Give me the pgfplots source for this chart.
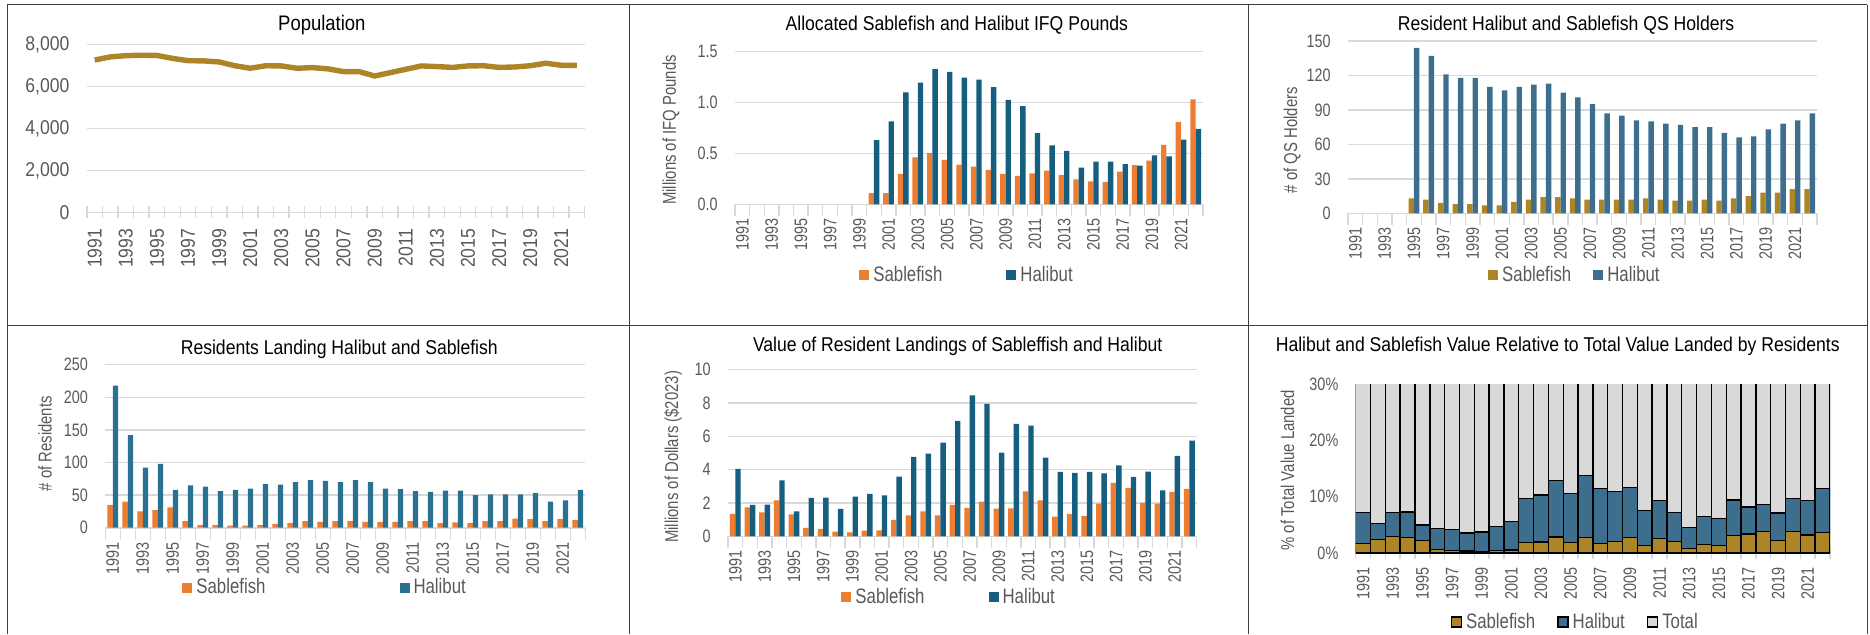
\documentclass[border=0pt]{standalone}
\usepackage{fontspec}
\setmainfont{Liberation Sans}[FakeStretch=0.8]
\newfontfamily\tfont{Liberation Sans}[FakeStretch=0.88]
\usepackage{pgfplots}
\usepackage{pgfplotstable}
\pgfplotsset{compat=1.18}

\definecolor{sable}{HTML}{ED7D31}
\definecolor{hali}{HTML}{165E80}
\definecolor{hali4}{HTML}{2A7091}
\definecolor{gold}{HTML}{AD8426}
\definecolor{steel}{HTML}{3E6E8E}
\definecolor{totgray}{HTML}{D9D9D9}
\definecolor{axgray}{HTML}{D9D9D9}
\definecolor{labgray}{HTML}{595959}

\pgfplotstableread{
year pop
1991 7250
1992 7400
1993 7460
1994 7480
1995 7470
1996 7330
1997 7220
1998 7210
1999 7160
2000 6980
2001 6860
2002 6980
2003 6970
2004 6860
2005 6890
2006 6830
2007 6700
2008 6700
2009 6490
2010 6650
2011 6810
2012 6970
2013 6940
2014 6900
2015 6970
2016 6980
2017 6900
2018 6920
2019 6980
2020 7100
2021 7000
2022 7000
}\poptab

\pgfplotstableread{
year sable hal
2000 0.110 0.630
2001 0.110 0.815
2002 0.300 1.100
2003 0.460 1.195
2004 0.505 1.327
2005 0.436 1.300
2006 0.390 1.245
2007 0.370 1.225
2008 0.337 1.150
2009 0.300 1.025
2010 0.280 0.965
2011 0.305 0.700
2012 0.330 0.580
2013 0.290 0.525
2014 0.245 0.360
2015 0.225 0.420
2016 0.220 0.420
2017 0.320 0.395
2018 0.385 0.380
2019 0.430 0.480
2020 0.585 0.470
2021 0.810 0.635
2022 1.030 0.740
}\ifqtab

\pgfplotstableread{
year sable hal
1995 13 144
1996 12 137
1997 9 121
1998 8 118
1999 8 118
2000 7 110
2001 7 107
2002 10 110
2003 12 112
2004 14 113
2005 14 105
2006 13 101
2007 12 95
2008 12 87
2009 12 85
2010 12 81
2011 13 80
2012 12 78
2013 11 77
2014 11 75
2015 12 75
2016 11 70
2017 13 66
2018 15 67
2019 18 73
2020 18 78
2021 21 81
2022 21 87
}\qstab

\pgfplotstableread{
year sable hal
1991 35 218
1992 40 142
1993 25 92
1994 27 98
1995 31 58
1996 10 65
1997 4 63
1998 4 56
1999 3 58
2000 3 60
2001 4 67
2002 6 66
2003 7 70
2004 10 73
2005 9 72
2006 10 70
2007 10 73
2008 9 70
2009 9 60
2010 9 59
2011 10 56
2012 10 55
2013 7 57
2014 8 57
2015 7 50
2016 10 51
2017 10 51
2018 14 51
2019 13 53
2020 10 40
2021 13 42
2022 12 58
}\restab

\pgfplotstableread{
year sable hal
1991 1.34 4.04
1992 1.74 1.88
1993 1.44 1.90
1994 2.16 3.36
1995 1.32 1.50
1996 0.50 2.30
1997 0.44 2.32
1998 0.28 1.64
1999 0.24 2.38
2000 0.34 2.54
2001 0.36 2.46
2002 0.98 3.58
2003 1.26 4.76
2004 1.50 4.96
2005 1.26 5.62
2006 1.88 6.92
2007 1.70 8.46
2008 2.08 7.94
2009 1.66 5.02
2010 1.68 6.74
2011 2.70 6.64
2012 2.16 4.72
2013 1.18 3.86
2014 1.34 3.80
2015 1.22 3.86
2016 1.96 3.78
2017 3.20 4.26
2018 2.90 3.56
2019 2.00 3.88
2020 1.96 2.76
2021 2.66 4.82
2022 2.84 5.74
}\valtab

\pgfplotstableread{
year sable hal total
1991 1.66 5.50 92.84
1992 2.43 2.84 94.73
1993 2.96 4.20 92.84
1994 2.78 4.50 92.72
1995 2.19 2.78 95.03
1996 0.59 3.79 95.62
1997 0.41 3.79 95.80
1998 0.36 3.19 96.45
1999 0.24 3.49 96.27
2000 0.41 4.32 95.27
2001 0.53 5.09 94.38
2002 1.89 7.75 90.36
2003 1.95 8.35 89.70
2004 2.84 10.00 87.16
2005 1.83 8.77 89.40
2006 2.78 11.02 86.20
2007 1.72 9.68 88.60
2008 2.07 8.88 89.05
2009 2.78 8.88 88.34
2010 1.36 6.21 92.43
2011 2.54 6.81 90.65
2012 2.07 5.09 92.84
2013 0.83 3.73 95.44
2014 1.54 4.91 93.55
2015 1.30 4.80 93.90
2016 3.08 6.32 90.60
2017 3.37 4.80 91.83
2018 3.79 4.85 91.36
2019 2.25 4.85 92.90
2020 3.85 5.85 90.30
2021 3.20 6.15 90.65
2022 3.67 7.75 88.58
}\pcttab

\pgfplotsset{
  /pgf/number format/assume math mode=true,
  panel/.style={
    scale only axis, anchor=south west,
    xmin=1990.5, xmax=2022.5,
    xtick={1991,1993,...,2021},
    minor xtick={1990.5,1991.5,...,2022.5},
    major tick length=0pt,
    minor tick length=6pt,
    tick align=center,
    minor tick style={draw=axgray, line width=0.7pt},
    axis x line*=bottom, axis y line*=left,
    x axis line style={draw=axgray, line width=0.8pt},
    y axis line style={draw=none},
    ymin=0,
    ymajorgrids, major grid style={draw=axgray, line width=0.7pt},
    scaled y ticks=false,
    tick label style={font=\fontsize{9}{10}\selectfont, text=labgray, inner sep=0pt},
    xticklabel style={rotate=90, anchor=east, /pgf/number format/1000 sep={}},
    xticklabel shift=7pt, yticklabel shift=8.5pt,
    every axis title shift=0pt,
    title style={font=\tfont\fontsize{10}{12}\selectfont, anchor=base, text=black},
    ylabel style={font=\fontsize{9.3}{11}\selectfont, text=labgray, anchor=center},
    legend style={draw=none, fill=none, font=\fontsize{10.5}{12}\selectfont,
      text=labgray, anchor=center, legend columns=-1},
  },
  sq/.style={legend image code/.code={\path[##1] (0pt,-2.5pt) rectangle (5pt,2.5pt);}},
}

\begin{document}
\begin{tikzpicture}
\path[use as bounding box] (0,0) rectangle (935pt,317pt);

% panel borders
\draw[black!75, line width=0.5pt] (3.4pt,314.6pt) -- (933.5pt,314.6pt);
\draw[black!75, line width=0.5pt] (3.5pt,0) -- (3.5pt,314.6pt);
\draw[black!75, line width=0.5pt] (933.5pt,0) -- (933.5pt,314.6pt);
\draw[black!75, line width=0.5pt] (314.5pt,0) -- (314.5pt,314.6pt);
\draw[black!75, line width=0.5pt] (624.2pt,0) -- (624.2pt,314.6pt);
\draw[black!75, line width=0.5pt] (3.5pt,154.5pt) -- (933.5pt,154.5pt);

% Population
\begin{axis}[panel, at={(43.45pt,210.85pt)}, width=248.9pt, height=84pt,
  ymax=8000, ytick={0,2000,...,8000},
  tick label style={font=\tfont\fontsize{10}{11}\selectfont},
  xticklabel shift=8pt,
  title={Population}, title style={at={(0.472,1)}, yshift=7.15pt, font=\tfont\fontsize{10.5}{12}\selectfont}]
\addplot[gold, line width=2.7pt] table[x=year, y=pop] {\poptab};
\end{axis}

% Allocated IFQ pounds
\begin{axis}[panel, at={(367.5pt,214.85pt)}, width=234pt, height=76.35pt,
  ymax=1.5, ytick={0,0.5,1,1.5},
  yticklabel style={/pgf/number format/.cd, fixed, fixed zerofill, precision=1},
  ybar=0pt, bar width=2.7pt, sq,
  title={Allocated Sablefish and Halibut IFQ Pounds}, title style={at={(0.474,1)}, yshift=10.5pt},
  ylabel={Millions of IFQ Pounds}, ylabel style={at={(axis description cs:-0.137,0.487)}},
  legend style={at={(0.498,-0.463)}, /tikz/every even column/.append style={column sep=30pt}}]
\addplot[fill=sable, draw=none] table[x=year, y=sable] {\ifqtab};
\addplot[fill=hali, draw=none] table[x=year, y=hal] {\ifqtab};
\legend{Sablefish, Halibut}
\end{axis}

% QS holders
\begin{axis}[panel, at={(674pt,210.35pt)}, width=234.5pt, height=86.15pt,
  ymax=150, ytick={0,30,...,150},
  ybar=0pt, bar width=2.7pt, sq,
  title={Resident Halibut and Sablefish QS Holders}, title style={at={(0.465,1)}, yshift=5.15pt},
  ylabel={\# of QS Holders}, ylabel style={at={(axis description cs:-0.119,0.425)}},
  legend style={at={(0.486,-0.358)}, /tikz/every even column/.append style={column sep=9pt}}]
\addplot[fill=gold, draw=none] table[x=year, y=sable] {\qstab};
\addplot[fill=steel, draw=none] table[x=year, y=hal] {\qstab};
\legend{Sablefish, Halibut}
\end{axis}

% Residents landing
\begin{axis}[panel, at={(52.65pt,53.15pt)}, width=240pt, height=81.5pt,
  ymax=250, ytick={0,50,...,250},
  ybar=0pt, bar width=2.7pt, sq,
  title={Residents Landing Halibut and Sablefish}, title style={at={(0.4875,1)}, yshift=5.2pt},
  ylabel={\# of Residents}, ylabel style={at={(axis description cs:-0.1256,0.515)}},
  legend style={at={(0.46,-0.368)}, /tikz/every even column/.append style={column sep=65pt}}]
\addplot[fill=sable, draw=none] table[x=year, y=sable] {\restab};
\addplot[fill=hali4, draw=none] table[x=year, y=hal] {\restab};
\legend{Sablefish, Halibut}
\end{axis}

% Value of landings
\begin{axis}[panel, at={(364pt,48.85pt)}, width=234.35pt, height=83.35pt,
  ymax=10, ytick={0,2,...,10},
  ybar=0pt, bar width=2.7pt, sq,
  title={Value of Resident Landings of Sableffish and Halibut}, title style={at={(0.49,1)}, yshift=8.85pt},
  ylabel={Millions of Dollars (\$2023)}, ylabel style={at={(axis description cs:-0.117,0.476)}},
  legend style={at={(0.474,-0.364)}, /tikz/every even column/.append style={column sep=30pt}}]
\addplot[fill=sable, draw=none] table[x=year, y=sable] {\valtab};
\addplot[fill=hali, draw=none] table[x=year, y=hal] {\valtab};
\legend{Sablefish, Halibut}
\end{axis}

% Share of total value
\begin{axis}[panel, at={(677.85pt,40.5pt)}, width=237.15pt, height=84.5pt,
  ymax=30, ytick={0,10,20,30}, ymajorgrids=false,
  yticklabel={\pgfmathprintnumber{\tick}\%},
  ybar stacked, bar width=7.41pt, sq,
  title={Halibut and Sablefish Value Relative to Total Value Landed by Residents},
  title style={at={(0.426,1)}, yshift=16.35pt},
  ylabel={\% of Total Value Landed}, ylabel style={at={(axis description cs:-0.144,0.489)}},
  legend style={at={(0.465,-0.408)}, /tikz/every even column/.append style={column sep=9pt}}]
\addplot[fill=gold, draw=black, line width=0.7pt] table[x=year, y=sable] {\pcttab};
\addplot[fill=steel, draw=black, line width=0.7pt] table[x=year, y=hal] {\pcttab};
\addplot[fill=totgray, draw=black, line width=0.7pt] table[x=year, y=total] {\pcttab};
\draw[white, line width=0.8pt] (axis cs:1990.95,10) -- (axis cs:2022.05,10);
\draw[white, line width=0.8pt] (axis cs:1990.95,20) -- (axis cs:2022.05,20);
\legend{Sablefish, Halibut, Total}
\end{axis}
\end{tikzpicture}
\end{document}
